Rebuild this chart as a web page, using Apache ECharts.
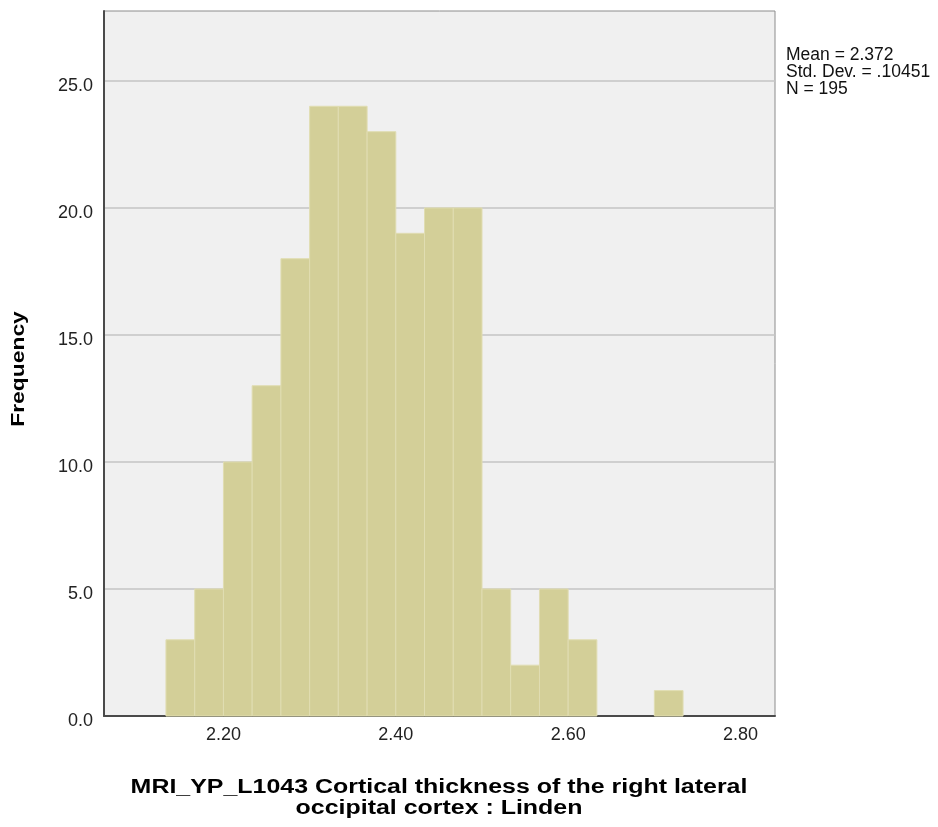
<!DOCTYPE html>
<html>
<head>
<meta charset="utf-8">
<script src="https://cdn.jsdelivr.net/npm/echarts@6/dist/echarts.min.js"></script>
<style>
html,body{margin:0;padding:0;background:#fff;}
#chart{width:938px;height:827px;}
</style>
</head>
<body>
<div id="chart"></div>
<script>
// Histogram bins (lower edge, upper edge) and frequencies
const binLower = [2.1333, 2.1667, 2.2000, 2.2333, 2.2667, 2.3000, 2.3333, 2.3667, 2.4000, 2.4333, 2.4667, 2.5000, 2.5333, 2.5667, 2.6000, 2.6333, 2.6667, 2.7000];
const binUpper = [2.1667, 2.2000, 2.2333, 2.2667, 2.3000, 2.3333, 2.3667, 2.4000, 2.4333, 2.4667, 2.5000, 2.5333, 2.5667, 2.6000, 2.6333, 2.6667, 2.7000, 2.7333];
const counts   = [3, 5, 10, 13, 18, 24, 24, 23, 19, 20, 20, 5, 2, 5, 3, 0, 0, 1];
const xTicks = [2.20, 2.40, 2.60, 2.80];
const yTicks = [0, 5, 10, 15, 20, 25];
const statsLines = ['Mean = 2.372', 'Std. Dev. = .10451', 'N = 195'];
const xTitle = 'MRI_YP_L1043 Cortical thickness of the right lateral\noccipital cortex : Linden';
const yTitle = 'Frequency';

const data = binLower.map((lo, i) => [lo, binUpper[i], counts[i]]);

const chart = echarts.init(document.getElementById('chart'), null, {renderer: 'canvas'});
const FONT = '"Liberation Sans", Arial, sans-serif';
chart.setOption({
  backgroundColor: '#ffffff',
  animation: false,
  grid: {
    left: 104, right: 163, top: 11, bottom: 111,
    show: true, backgroundColor: '#f0f0f0', borderColor: '#8c8c8c', borderWidth: 1
  },
  xAxis: {
    type: 'value', min: 2.0614, max: 2.84,
    axisLine: {show: true, onZero: false, lineStyle: {color: '#4a4a4a', width: 2}},
    axisTick: {show: false, customValues: xTicks},
    splitLine: {show: false},
    axisLabel: {
      customValues: xTicks, formatter: v => v.toFixed(2),
      color: '#222', fontFamily: FONT, fontSize: 18, margin: 10
    }
  },
  yAxis: {
    type: 'value', min: 0, max: 27.75,
    axisLine: {show: true, lineStyle: {color: '#4a4a4a', width: 2}},
    axisTick: {show: false, customValues: yTicks},
    splitLine: {show: true, lineStyle: {color: '#c4c4c4', width: 1.5}},
    axisLabel: {
      customValues: yTicks, formatter: v => v.toFixed(1),
      color: '#222', fontFamily: FONT, fontSize: 18, margin: 11,
      verticalAlign: 'top', lineHeight: 18, padding: [-4, 0, 0, 0]
    }
  },
  series: [{
    type: 'custom',
    data: data,
    encode: {x: [0, 1], y: 2},
    renderItem: function (params, api) {
      const lo = api.value(0), hi = api.value(1), c = api.value(2);
      if (!c) return null;
      const p1 = api.coord([lo, c]);
      const p2 = api.coord([hi, 0]);
      return {
        type: 'rect',
        shape: {x: p1[0], y: p1[1], width: p2[0] - p1[0], height: p2[1] - p1[1]},
        style: {fill: '#d3cf98', stroke: '#e0ddb2', lineWidth: 1}
      };
    }
  }],
  graphic: [
    {
      type: 'text', left: 786, top: 46,
      style: {text: statsLines.join('\n'), font: '17.5px ' + FONT, fill: '#111', lineHeight: 17}
    },
    {
      type: 'text', x: 439, y: 777, scaleX: 1.247,
      style: {text: xTitle, font: 'bold 20px ' + FONT, fill: '#000', align: 'center', verticalAlign: 'top', lineHeight: 21}
    },
    {
      type: 'text', x: 19, y: 369, rotation: Math.PI / 2, scaleX: 1.27,
      style: {text: yTitle, font: 'bold 18px ' + FONT, fill: '#000', align: 'center', verticalAlign: 'middle'}
    }
  ]
});
</script>
</body>
</html>
